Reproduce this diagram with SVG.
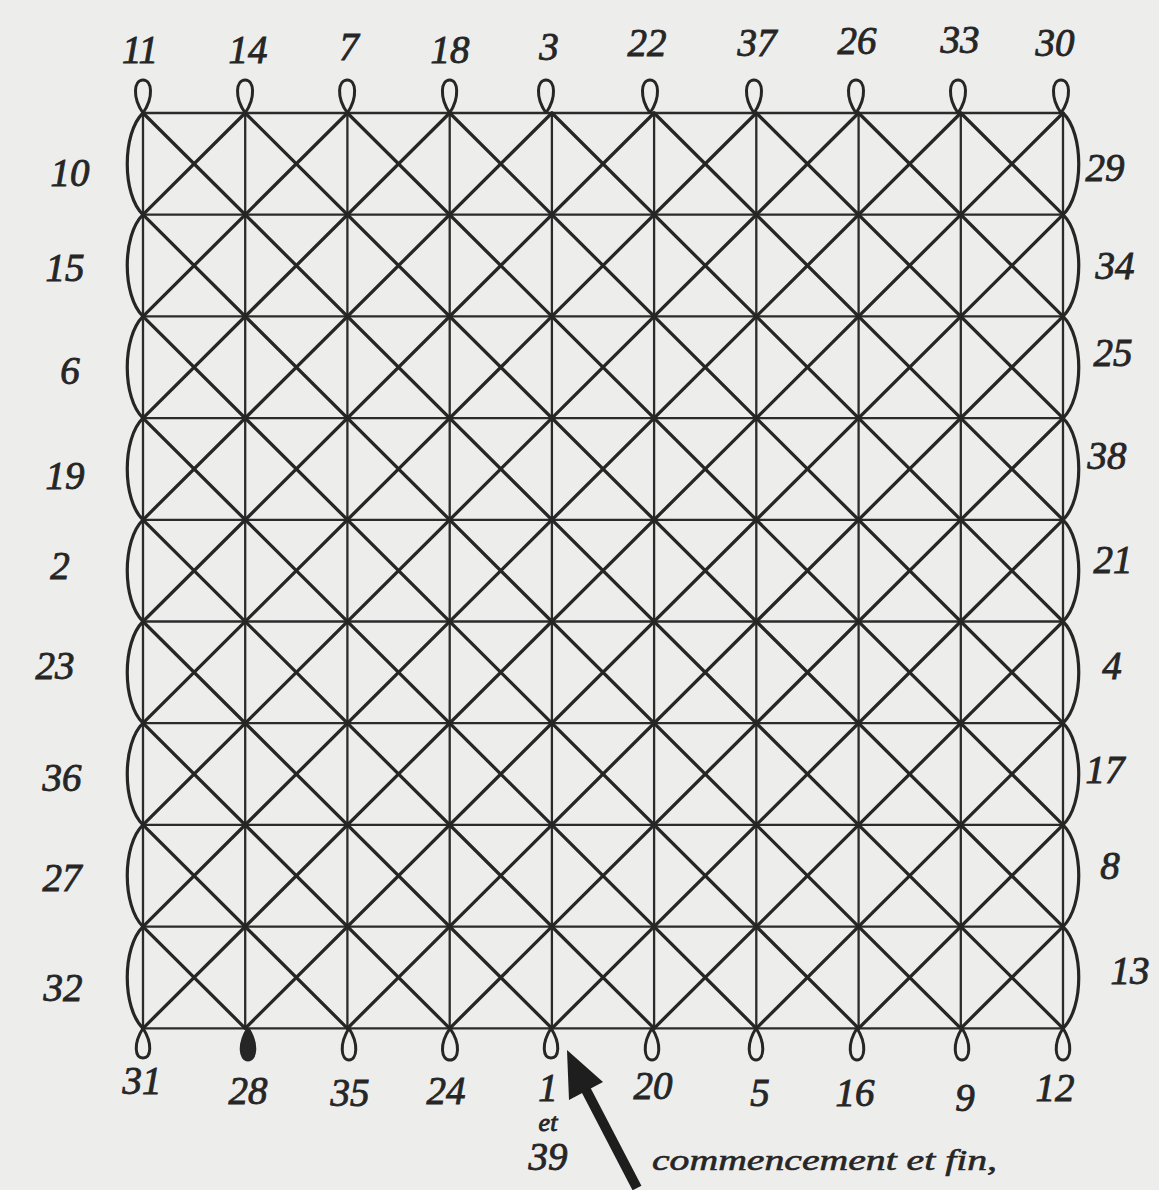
<svg xmlns="http://www.w3.org/2000/svg" width="1159" height="1190" viewBox="0 0 1159 1190">
<style>
.bg{fill:#ededec}
.ortho{stroke:#2b2b2b;stroke-width:2.3;fill:none;stroke-linecap:round}
.diag{stroke:#262626;stroke-width:3.3;fill:none;stroke-linecap:round}
.loop{stroke:#262626;stroke-width:3;fill:none}
.arc{stroke:#262626;stroke-width:3.2;fill:none}
.lbl{font-family:"Liberation Serif","DejaVu Serif",serif;font-style:italic;font-size:39px;fill:#262626;stroke:#262626;stroke-width:0.9;text-anchor:middle}
.note{font-family:"Liberation Serif","DejaVu Serif",serif;font-style:italic;font-size:30px;fill:#262626;stroke:#262626;stroke-width:0.6}
</style>
<rect class="bg" x="0" y="0" width="1159" height="1190"/>
<g id="connectors">
<g id="grid-verticals" class="ortho">
<path d="M143 113V1028.3M245.2 113V1028.3M347.4 113V1028.3M449.7 113V1028.3M551.9 113V1028.3M654.1 113V1028.3M756.3 113V1028.3M858.6 113V1028.3M960.8 113V1028.3M1063 113V1028.3"/>
</g>
<g id="grid-horizontals" class="ortho">
<path d="M143 113H1063M143 214.7H1063M143 316.4H1063M143 418.1H1063M143 519.8H1063M143 621.5H1063M143 723.2H1063M143 824.9H1063M143 926.6H1063M143 1028.3H1063"/>
</g>
<g id="diagonals-down" class="diag">
<path d="M143 926.6L245.2 1028.3M143 824.9L347.4 1028.3M143 723.2L449.7 1028.3M143 621.5L551.9 1028.3M143 519.8L654.1 1028.3M143 418.1L756.3 1028.3M143 316.4L858.6 1028.3M143 214.7L960.8 1028.3M143 113L1063 1028.3M245.2 113L1063 926.6M347.4 113L1063 824.9M449.7 113L1063 723.2M551.9 113L1063 621.5M654.1 113L1063 519.8M756.3 113L1063 418.1M858.6 113L1063 316.4M960.8 113L1063 214.7"/>
</g>
<g id="diagonals-up" class="diag">
<path d="M143 214.7L245.2 113M143 316.4L347.4 113M143 418.1L449.7 113M143 519.8L551.9 113M143 621.5L654.1 113M143 723.2L756.3 113M143 824.9L858.6 113M143 926.6L960.8 113M143 1028.3L1063 113M245.2 1028.3L1063 214.7M347.4 1028.3L1063 316.4M449.7 1028.3L1063 418.1M551.9 1028.3L1063 519.8M654.1 1028.3L1063 621.5M756.3 1028.3L1063 723.2M858.6 1028.3L1063 824.9M960.8 1028.3L1063 926.6"/>
</g>
<g id="left-arcs" class="arc">
<path d="M143 113C122 133 122 195 143 214.7M143 214.7C122 235 122 296 143 316.4M143 316.4C122 337 122 398 143 418.1M143 418.1C122 438 122 500 143 519.8M143 519.8C122 540 122 601 143 621.5M143 621.5C122 642 122 703 143 723.2M143 723.2C122 743 122 805 143 824.9M143 824.9C122 845 122 906 143 926.6M143 926.6C122 947 122 1008 143 1028.3"/>
</g>
<g id="right-arcs" class="arc">
<path d="M1063 113C1084 133 1084 195 1063 214.7M1063 214.7C1084 235 1084 296 1063 316.4M1063 316.4C1084 337 1084 398 1063 418.1M1063 418.1C1084 438 1084 500 1063 519.8M1063 519.8C1084 540 1084 601 1063 621.5M1063 621.5C1084 642 1084 703 1063 723.2M1063 723.2C1084 743 1084 805 1063 824.9M1063 824.9C1084 845 1084 906 1063 926.6M1063 926.6C1084 947 1084 1008 1063 1028.3"/>
</g>
<g id="top-loops" class="loop">
<path d="M143 113C132 97 134 80 143 80C152 80 154 97 143 113"/>
<path d="M245.2 113C234 97 236 80 245.2 80C254 80 256 97 245.2 113"/>
<path d="M347.4 113C336 97 338 80 347.4 80C356 80 358 97 347.4 113"/>
<path d="M449.7 113C439 97 441 80 449.7 80C458 80 460 97 449.7 113"/>
<path d="M546 113C535 97 537 80 546 80C555 80 557 97 546 113"/>
<path d="M650 113C639 97 641 80 650 80C659 80 661 97 650 113"/>
<path d="M754 113C743 97 745 80 754 80C763 80 765 97 754 113"/>
<path d="M856 113C845 97 847 80 856 80C865 80 867 97 856 113"/>
<path d="M958 113C947 97 949 80 958 80C967 80 969 97 958 113"/>
<path d="M1061 113C1050 97 1052 80 1061 80C1070 80 1072 97 1061 113"/>
</g>
<g id="bottom-loops" class="loop">
<path d="M143 1028.3C133 1044 135 1058 143 1058C151 1058 153 1044 143 1028.3"/>
<path d="M248 1028.3C238 1044 240 1060 248 1060C256 1060 258 1044 248 1028.3" fill="#262626"/>
<path d="M349 1028.3C339 1044 341 1060 349 1060C357 1060 359 1044 349 1028.3"/>
<path d="M450 1028.3C439 1044 441 1060 450 1060C459 1060 461 1044 450 1028.3"/>
<path d="M551 1028.3C541 1044 543 1058 551 1058C559 1058 561 1044 551 1028.3"/>
<path d="M652 1028.3C642 1044 644 1060 652 1060C660 1060 662 1044 652 1028.3"/>
<path d="M756 1028.3C746 1044 748 1060 756 1060C764 1060 766 1044 756 1028.3"/>
<path d="M857 1028.3C847 1044 849 1060 857 1060C865 1060 867 1044 857 1028.3"/>
<path d="M962 1028.3C952 1044 954 1060 962 1060C970 1060 972 1044 962 1028.3"/>
<path d="M1063 1028.3C1053 1044 1055 1060 1063 1060C1071 1060 1073 1044 1063 1028.3"/>
</g>
<g id="arrow">
<path d="M637 1188L585 1088" stroke="#1e1e1e" stroke-width="10" fill="none"/>
<polygon points="567,1050 603,1082 569,1100" fill="#1e1e1e"/>
</g>
</g>
<g id="top-labels" class="lbl">
<text id="t11" x="140" y="63">11</text>
<text id="t14" x="248" y="63">14</text>
<text id="t7" x="349" y="60">7</text>
<text id="t18" x="450" y="63">18</text>
<text id="t3" x="549" y="60">3</text>
<text id="t22" x="647" y="56">22</text>
<text id="t37" x="757" y="56">37</text>
<text id="t26" x="857" y="54">26</text>
<text id="t33" x="960" y="53">33</text>
<text id="t30" x="1055" y="56">30</text>
</g>
<g id="left-labels" class="lbl">
<text id="l10" x="70" y="186">10</text>
<text id="l15" x="65" y="281">15</text>
<text id="l6" x="70" y="384">6</text>
<text id="l19" x="65" y="489">19</text>
<text id="l2" x="60" y="579">2</text>
<text id="l23" x="55" y="679">23</text>
<text id="l36" x="62" y="791">36</text>
<text id="l27" x="62" y="891">27</text>
<text id="l32" x="63" y="1001">32</text>
</g>
<g id="right-labels" class="lbl">
<text id="r29" x="1105" y="181">29</text>
<text id="r34" x="1115" y="279">34</text>
<text id="r25" x="1113" y="366">25</text>
<text id="r38" x="1107" y="469">38</text>
<text id="r21" x="1113" y="573">21</text>
<text id="r4" x="1112" y="679">4</text>
<text id="r17" x="1105" y="783">17</text>
<text id="r8" x="1110" y="879">8</text>
<text id="r13" x="1130" y="984">13</text>
</g>
<g id="bottom-labels" class="lbl">
<text id="b31" x="142" y="1094">31</text>
<text id="b28" x="248" y="1104">28</text>
<text id="b35" x="350" y="1106">35</text>
<text id="b24" x="446" y="1104">24</text>
<text id="b1" x="548" y="1101">1</text>
<text id="b-et" x="548" y="1131" style="font-size:26px">et</text>
<text id="b39" x="548" y="1170">39</text>
<text id="b20" x="653" y="1099">20</text>
<text id="b5" x="760" y="1106">5</text>
<text id="b16" x="855" y="1106">16</text>
<text id="b9" x="965" y="1111">9</text>
<text id="b12" x="1055" y="1101">12</text>
</g>
<g id="note">
<text class="note" x="652" y="1170" textLength="345" lengthAdjust="spacingAndGlyphs">commencement et fin,</text>
</g>
</svg>
